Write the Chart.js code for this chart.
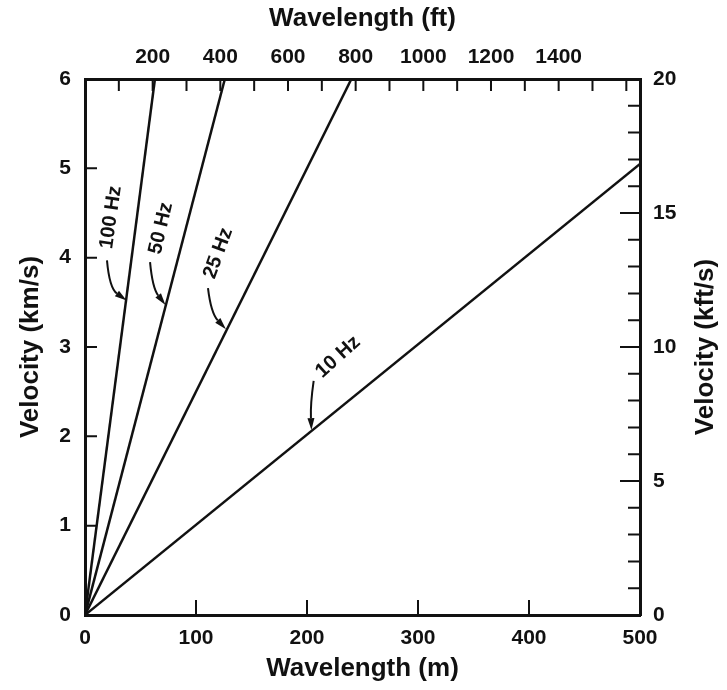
<!DOCTYPE html>
<html>
<head>
<meta charset="utf-8">
<script src="https://cdn.jsdelivr.net/npm/chart.js@4.4.1/dist/chart.umd.min.js"></script>
<style>
    html, body { margin: 0; padding: 0; background: #fff; }
    #wrap { width: 727px; height: 690px; }
</style>
</head>
<body>
<div id="wrap"><canvas id="chart" width="727" height="690"></canvas></div>
<script>

// lines, wavelength (m) vs velocity (km/s)
const lambda100Hz = [0, 63];
const vel100Hz = [0, 6];

const lambda50Hz = [0, 126];
const vel50Hz = [0, 6];

const lambda25Hz = [0, 240];
const vel25Hz = [0, 6];

const lambda10Hz = [0, 500];
const vel10Hz = [0, 5.05];

// axes
const mTicks = [0, 100, 200, 300, 400, 500];
const ftMinor = [100, 200, 300, 400, 500, 600, 700, 800, 900, 1000, 1100, 1200, 1300, 1400, 1500, 1600];
const ftLabels = [200, 400, 600, 800, 1000, 1200, 1400];
const kmTicks = [0, 1, 2, 3, 4, 5, 6];
const kftMinor = [1, 2, 3, 4, 6, 7, 8, 9, 11, 12, 13, 14, 16, 17, 18, 19];
const kftLabels = [0, 5, 10, 15, 20];

// labels with arrows (data units)
const noteText = ["100 Hz", "50 Hz", "25 Hz", "10 Hz"];
const noteLambda = [23.4, 68.5, 120, 228];
const noteVel = [4.45, 4.33, 4.05, 2.89];
const noteAngle = [-82, -77, -70, -42];

const arrowFromL = [19.8, 58.6, 110.8, 206];
const arrowFromV = [3.97, 3.95, 3.66, 2.62];
const arrowCtrlL = [22.0, 60.8, 113.5, 203];
const arrowCtrlV = [3.66, 3.66, 3.38, 2.36];
const arrowToL = [37.5, 72.5, 127, 204];
const arrowToV = [3.52, 3.47, 3.2, 2.07];


const INK = "#111";
const FONT = "'Liberation Sans', Arial, Helvetica, sans-serif";


function pts(xs, ys) {
    return xs.map((x, i) => ({ x: x, y: ys[i] }));
}

function lineSet(label, xs, ys) {
    return {
        label: label,
        data: pts(xs, ys),
        borderColor: INK,
        borderWidth: 2.5,
        pointRadius: 0,
        fill: false,
        tension: 0
    };
}


const extras = {
    id: "extras",
    afterDatasetsDraw(chart) {

        const ctx = chart.ctx;
        const a = chart.chartArea;
        const sx = chart.scales.x;
        const sx2 = chart.scales.x2;
        const sy = chart.scales.y;
        const sy2 = chart.scales.y2;

        ctx.save();
        ctx.strokeStyle = INK;
        ctx.fillStyle = INK;
        ctx.lineWidth = 2;

        // inward ticks
        ctx.beginPath();
        mTicks.forEach(v => {
            const px = sx.getPixelForValue(v);
            ctx.moveTo(px, a.bottom);
            ctx.lineTo(px, a.bottom - 15);
        });
        ftMinor.forEach(v => {
            const px = sx2.getPixelForValue(v);
            ctx.moveTo(px, a.top);
            ctx.lineTo(px, a.top + 12);
        });
        kmTicks.forEach(v => {
            const py = sy.getPixelForValue(v);
            ctx.moveTo(a.left, py);
            ctx.lineTo(a.left + 12, py);
        });
        kftMinor.forEach(v => {
            const py = sy2.getPixelForValue(v);
            ctx.moveTo(a.right, py);
            ctx.lineTo(a.right - 12, py);
        });
        kftLabels.forEach(v => {
            const py = sy2.getPixelForValue(v);
            ctx.moveTo(a.right, py);
            ctx.lineTo(a.right - 20, py);
        });
        ctx.stroke();

        // frequency labels
        ctx.font = "bold 20px " + FONT;
        ctx.textAlign = "center";
        ctx.textBaseline = "middle";
        noteText.forEach((t, i) => {
            ctx.save();
            ctx.translate(sx.getPixelForValue(noteLambda[i]), sy.getPixelForValue(noteVel[i]));
            ctx.rotate(noteAngle[i] * Math.PI / 180);
            ctx.fillText(t, 0, 0);
            ctx.restore();
        });

        // curved arrows
        ctx.lineWidth = 2;
        noteText.forEach((t, i) => {
            const x0 = sx.getPixelForValue(arrowFromL[i]);
            const y0 = sy.getPixelForValue(arrowFromV[i]);
            const cx = sx.getPixelForValue(arrowCtrlL[i]);
            const cy = sy.getPixelForValue(arrowCtrlV[i]);
            const x1 = sx.getPixelForValue(arrowToL[i]);
            const y1 = sy.getPixelForValue(arrowToV[i]);

            const ang = Math.atan2(y1 - cy, x1 - cx);
            const head = 12;
            const bx = x1 - head * Math.cos(ang);
            const by = y1 - head * Math.sin(ang);

            ctx.beginPath();
            ctx.moveTo(x0, y0);
            ctx.quadraticCurveTo(cx, cy, bx, by);
            ctx.stroke();

            ctx.beginPath();
            ctx.moveTo(x1, y1);
            ctx.lineTo(bx + 3.5 * Math.sin(ang), by - 3.5 * Math.cos(ang));
            ctx.lineTo(bx - 3.5 * Math.sin(ang), by + 3.5 * Math.cos(ang));
            ctx.closePath();
            ctx.fill();
        });

        // right axis title, reading upward
        ctx.save();
        ctx.font = "bold 26px " + FONT;
        ctx.translate(706, (a.top + a.bottom) / 2);
        ctx.rotate(-Math.PI / 2);
        ctx.fillText("Velocity (kft/s)", 0, 0);
        ctx.restore();

        ctx.restore();
    }
};


function fixTicks(list) {
    return scale => {
        scale.ticks = list.map(v => ({ value: v }));
    };
}

const plain = v => String(v);

const tickFont = { family: FONT, size: 21, weight: "bold" };
const titleFont = { family: FONT, size: 26, weight: "bold" };
const border = { display: true, color: INK, width: 3 };


new Chart(document.getElementById("chart"), {

    type: "line",

    data: {
        datasets: [
            lineSet("100 Hz", lambda100Hz, vel100Hz),
            lineSet("50 Hz", lambda50Hz, vel50Hz),
            lineSet("25 Hz", lambda25Hz, vel25Hz),
            lineSet("10 Hz", lambda10Hz, vel10Hz)
        ]
    },

    options: {

        responsive: false,
        animation: false,
        devicePixelRatio: 1,

        layout: { padding: 0 },

        plugins: {
            legend: { display: false },
            tooltip: { enabled: false }
        },

        scales: {

            x: {
                type: "linear",
                position: "bottom",
                min: 0,
                max: 500,
                grid: { display: false },
                border: border,
                afterBuildTicks: fixTicks(mTicks),
                afterFit: s => { s.height = 75; },
                ticks: { font: tickFont, color: INK, padding: 3, maxRotation: 0, autoSkip: false, callback: plain },
                title: {
                    display: true,
                    text: "Wavelength (m)",
                    font: titleFont,
                    color: INK,
                    padding: { top: 0, bottom: 6 }
                }
            },

            x2: {
                type: "linear",
                position: "top",
                min: 0,
                max: 500 / 0.3048,
                grid: { display: false },
                border: border,
                afterBuildTicks: fixTicks(ftLabels),
                afterFit: s => { s.height = 79; },
                ticks: { font: tickFont, color: INK, padding: 1, maxRotation: 0, autoSkip: false, callback: plain },
                title: {
                    display: true,
                    text: "Wavelength (ft)",
                    font: titleFont,
                    color: INK,
                    padding: { top: 3, bottom: 0 }
                }
            },

            y: {
                type: "linear",
                position: "left",
                min: 0,
                max: 6,
                grid: { display: false },
                border: border,
                afterBuildTicks: fixTicks(kmTicks),
                afterFit: s => { s.width = 85; },
                ticks: { font: tickFont, color: INK, padding: 6, autoSkip: false, callback: plain },
                title: {
                    display: true,
                    text: "Velocity (km/s)",
                    font: titleFont,
                    color: INK,
                    padding: { top: 15, bottom: 0 }
                }
            },

            y2: {
                type: "linear",
                position: "right",
                min: 0,
                max: 20,
                grid: { display: false },
                border: border,
                afterBuildTicks: fixTicks(kftLabels),
                afterFit: s => { s.width = 87; },
                ticks: { font: tickFont, color: INK, padding: 5, autoSkip: false, callback: plain },
                title: { display: false }
            }
        }
    },

    plugins: [extras]
});

</script>
</body>
</html>
